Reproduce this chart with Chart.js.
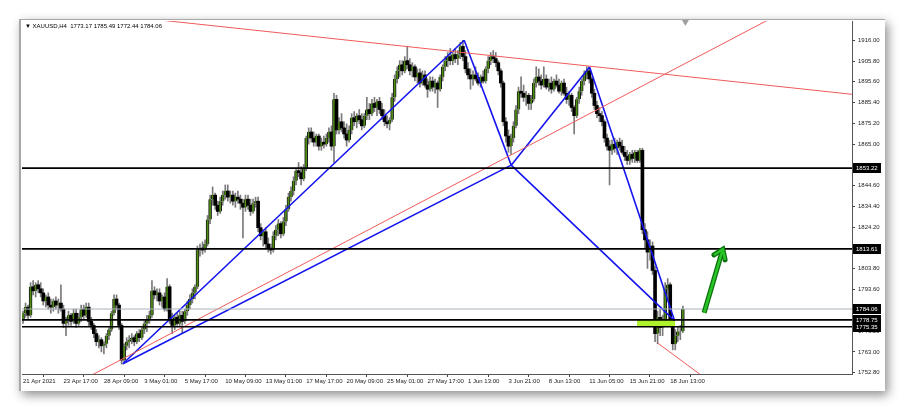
<!DOCTYPE html>
<html>
<head>
<meta charset="utf-8">
<script src="https://cdn.jsdelivr.net/npm/chart.js@4.4.0/dist/chart.umd.min.js"></script>
<style>
  html, body { margin: 0; padding: 0; background: #fff; }
  #wrap { position: relative; width: 900px; height: 409px; overflow: hidden; background: #fff; }
  #win { position: absolute; left: 19px; top: 19px; width: 864px; height: 371px; background: #fff;
         border-left: 2px solid #a8a8a8; border-top: 1px solid #a8a8a8; box-shadow: 3px 4px 10px rgba(0,0,0,0.45); }
  canvas { position: absolute; left: 0; top: 0; }
</style>
</head>
<body>
<div id="wrap"><div id="win"></div><canvas id="chart" width="900" height="409"></canvas></div>
<script>
// XAUUSD H4 candles, 21 Apr 2021 .. 18 Jun 2021
const opens = [1779,1782,1785,1781,1795,1793,1796,1794,1792,1788,1790,1786,1785,1788,1786,1787,1784,1777,1779,1781,
  1778,1782,1777,1780,1784,1781,1785,1778,1776,1772,1768,1769,1766,1767,1771,1774,1782,1789,1786,1776,
  1759,1766,1768,1769,1770,1768,1772,1770,1774,1777,1779,1781,1793,1791,1792,1788,1790,1784,1795,1779,
  1776,1780,1777,1781,1778,1783,1786,1789,1792,1795,1813,1814,1813,1816,1828,1838,1840,1835,1832,1837,
  1840,1842,1839,1840,1837,1839,1838,1836,1834,1838,1835,1832,1836,1837,1824,1820,1822,1816,1814,1813,
  1820,1823,1826,1821,1827,1833,1839,1842,1847,1852,1851,1848,1853,1868,1871,1868,1866,1869,1864,1866,
  1865,1868,1871,1864,1887,1872,1876,1873,1870,1867,1872,1878,1876,1879,1877,1874,1879,1882,1880,1885,
  1883,1886,1882,1879,1876,1875,1877,1888,1897,1901,1904,1901,1906,1904,1901,1903,1898,1900,1895,1899,
  1894,1892,1896,1893,1895,1892,1898,1903,1906,1908,1906,1909,1907,1909,1913,1908,1902,1899,1897,1899,
  1897,1895,1898,1896,1902,1906,1908,1907,1905,1901,1895,1876,1869,1864,1868,1874,1882,1891,1890,1888,
  1889,1885,1887,1895,1898,1896,1894,1897,1893,1895,1892,1896,1894,1891,1895,1890,1887,1889,1883,1879,
  1887,1891,1896,1899,1901,1897,1890,1884,1880,1879,1876,1868,1864,1862,1865,1863,1866,1864,1861,1859,
  1857,1860,1858,1861,1857,1862,1823,1818,1812,1815,1803,1772,1780,1775,1779,1794,1796,1778,1767,1771,
  1773,1773.17];
const highs = [1783,1787,1786,1797,1798,1797,1798,1797,1794,1791,1792,1789,1789,1790,1789,1796,1786,1780,1783,1782,
  1784,1784,1782,1786,1786,1787,1787,1780,1777,1774,1771,1770,1768,1772,1775,1783,1791,1791,1787,1777,
  1767,1770,1771,1772,1771,1773,1774,1775,1778,1781,1783,1798,1795,1794,1794,1791,1792,1799,1796,1782,
  1781,1782,1783,1783,1784,1788,1791,1794,1796,1815,1816,1817,1818,1830,1840,1844,1841,1837,1839,1842,
  1845,1845,1842,1842,1841,1842,1840,1838,1840,1840,1838,1838,1839,1839,1826,1823,1824,1819,1816,1822,
  1825,1828,1827,1829,1835,1841,1844,1849,1853,1856,1854,1855,1869,1873,1873,1871,1870,1870,1868,1869,
  1870,1873,1874,1890,1889,1878,1880,1876,1875,1874,1880,1881,1880,1882,1880,1880,1888,1885,1887,1888,
  1887,1888,1885,1882,1879,1878,1890,1899,1903,1906,1906,1908,1913,1907,1905,1904,1902,1902,1901,1901,
  1897,1898,1898,1897,1896,1899,1904,1908,1910,1912,1910,1912,1911,1915,1916,1911,1905,1902,1901,1903,
  1900,1899,1901,1903,1908,1910,1911,1910,1906,1902,1896,1878,1872,1870,1876,1884,1893,1898,1894,1891,
  1890,1889,1897,1903,1902,1899,1903,1899,1897,1898,1897,1899,1897,1896,1897,1893,1891,1890,1884,1888,
  1893,1897,1901,1903,1903,1898,1892,1886,1883,1881,1877,1870,1867,1867,1868,1867,1868,1867,1864,1862,
  1861,1862,1862,1862,1863,1863,1826,1822,1818,1817,1805,1783,1784,1781,1797,1799,1797,1779,1774,1775,
  1776,1785.49];
const lows = [1777,1780,1779,1780,1791,1790,1792,1790,1786,1785,1784,1782,1783,1784,1782,1783,1775,1771,1776,1776,
  1777,1775,1776,1778,1779,1780,1776,1774,1770,1766,1765,1763,1762,1765,1769,1773,1781,1784,1774,1757,
  1758,1764,1765,1767,1766,1767,1768,1769,1772,1773,1777,1780,1789,1788,1786,1785,1783,1783,1777,1772,
  1774,1776,1776,1772,1777,1781,1784,1787,1789,1794,1810,1811,1812,1815,1826,1835,1833,1830,1831,1835,
  1838,1837,1836,1835,1834,1836,1833,1819,1832,1833,1830,1831,1834,1822,1818,1815,1814,1812,1811,1812,
  1818,1820,1819,1820,1825,1832,1837,1840,1845,1849,1845,1847,1852,1865,1866,1864,1864,1862,1862,1863,
  1864,1866,1862,1856,1870,1870,1871,1868,1864,1866,1870,1874,1873,1875,1872,1873,1877,1877,1879,1881,
  1879,1880,1877,1874,1873,1872,1876,1886,1895,1898,1899,1900,1902,1899,1898,1896,1895,1893,1894,1893,
  1888,1891,1891,1890,1883,1891,1896,1901,1903,1904,1904,1905,1904,1907,1906,1900,1897,1892,1894,1896,
  1894,1893,1895,1895,1900,1904,1905,1903,1899,1893,1874,1866,1861,1860,1866,1873,1880,1888,1886,1884,
  1882,1882,1886,1893,1894,1892,1893,1892,1891,1890,1891,1893,1890,1889,1889,1885,1884,1881,1870,1878,
  1885,1889,1894,1897,1895,1888,1882,1878,1876,1874,1866,1862,1845,1860,1861,1860,1862,1860,1857,1855,
  1855,1856,1856,1856,1856,1821,1814,1804,1808,1801,1768,1767,1771,1771,1778,1789,1776,1764,1764,1768,
  1769,1772.44];
const closes = [1782,1785,1781,1795,1793,1796,1794,1792,1788,1790,1786,1785,1788,1786,1787,1784,1777,1779,1781,1778,
  1782,1777,1780,1784,1781,1785,1778,1776,1772,1768,1769,1766,1767,1771,1774,1782,1789,1786,1776,1759,
  1766,1768,1769,1770,1768,1772,1770,1774,1777,1779,1781,1793,1791,1792,1788,1790,1784,1795,1779,1776,
  1780,1777,1781,1778,1783,1786,1789,1792,1795,1813,1814,1813,1816,1828,1838,1840,1835,1832,1837,1840,
  1842,1839,1840,1837,1839,1838,1836,1834,1838,1835,1832,1836,1837,1824,1820,1822,1816,1814,1813,1820,
  1823,1826,1821,1827,1833,1839,1842,1847,1852,1851,1848,1853,1868,1871,1868,1866,1869,1864,1866,1865,
  1868,1871,1864,1887,1872,1876,1873,1870,1867,1872,1878,1876,1879,1877,1874,1879,1882,1880,1885,1883,
  1886,1882,1879,1876,1875,1877,1888,1897,1901,1904,1901,1906,1904,1901,1903,1898,1900,1895,1899,1894,
  1892,1896,1893,1895,1892,1898,1903,1906,1908,1906,1909,1907,1909,1913,1908,1902,1899,1897,1899,1897,
  1895,1898,1896,1902,1906,1908,1907,1905,1901,1895,1876,1869,1864,1868,1874,1882,1891,1890,1888,1889,
  1885,1887,1895,1898,1896,1894,1897,1893,1895,1892,1896,1894,1891,1895,1890,1887,1889,1883,1879,1887,
  1891,1896,1899,1901,1897,1890,1884,1880,1879,1876,1868,1864,1862,1865,1863,1866,1864,1861,1859,1857,
  1860,1858,1861,1857,1862,1823,1818,1812,1815,1803,1772,1780,1775,1779,1794,1796,1778,1767,1771,1773,
  1773.17,1784.06];

// time axis: a label every 16 bars
const xTickIdx = [0,16,32,48,64,80,96,112,128,144,160,176,192,208,224,240,256];
const xTickLabels = ['21 Apr 2021','23 Apr 17:00','28 Apr 09:00','3 May 01:00','5 May 17:00','10 May 09:00',
  '13 May 01:00','17 May 17:00','20 May 09:00','25 May 01:00','27 May 17:00','1 Jun 13:00','3 Jun 21:00',
  '8 Jun 13:00','11 Jun 05:00','15 Jun 21:00','18 Jun 13:00'];
const yTicks = [1752.80,1763.00,1773.20,1783.40,1793.60,1803.80,1814.00,1824.20,1834.40,1844.60,1854.80,
  1865.00,1875.20,1885.40,1895.60,1905.80,1916.00];

// horizontal levels and the bid line
const hLevels = [1853.22, 1813.61, 1778.75, 1775.35];
const bidLevel = 1784.06;
const markLevels = [1853.22, 1813.61, 1784.06, 1778.75, 1775.35];

// harmonic pattern points [bar, price]
const patX = [39.5, 1757.2], patA = [174.5, 1916.0], patB = [193.1, 1854.7],
      patC = [224.1, 1902.9], patD = [257.7, 1778.4];
// red trend lines [[bar, price], [bar, price]]
const redTop = [[50, 1926.5], [330, 1889.2]];
const redRise = [[25, 1750.2], [330, 1949.0]];
const redLow = [[251.1, 1767.3], [275, 1745.4]];
// green zone and arrow
const zoneBars = [242.9, 257.9];
const arrowLine = [[269.4, 1782.2], [276.8, 1813.4]];
const arrowHead = [[273.3, 1810.6], [276.8, 1813.4], [277.7, 1808.2]];
const shiftMark = [262, 1925];

const FONT = '"Liberation Sans", Arial, sans-serif';
const pts = arr => arr.map(p => ({ x: p[0], y: p[1] }));
const seg = (p, q, color, w) => ({ type: 'line', data: pts([p, q]), borderColor: color, borderWidth: w,
  pointRadius: 0, fill: false, tension: 0, order: 1 });
const isBull = i => closes[i] >= opens[i];

const datasets = [
  { type: 'bar', data: highs.map((h, i) => ({ x: i, y: [lows[i], h] })), backgroundColor: '#7a7a7a',
    barThickness: 1, grouped: false, order: 20 },
  // bodies: green with dark edges for up bars, solid black for down bars
  { type: 'bar', data: opens.map((o, i) => ({ x: i, y: [o, closes[i] === o ? o + 0.3 : closes[i]] })),
    backgroundColor: opens.map((o, i) => isBull(i) ? '#4e8f12' : '#000000'),
    borderColor: '#1a1a1a', borderWidth: opens.map((o, i) => isBull(i) ? { left: 1, right: 1, top: 0, bottom: 0 } : 0),
    borderSkipped: false,
    barThickness: 3, grouped: false, order: 19 },
  // green zone between the two lower levels
  { type: 'line', data: pts([[zoneBars[0], hLevels[2]], [zoneBars[1], hLevels[2]]]), borderWidth: 0,
    pointRadius: 0, fill: '+1', backgroundColor: '#adf22a', order: 5 },
  { type: 'line', data: pts([[zoneBars[0], hLevels[3]], [zoneBars[1], hLevels[3]]]), borderWidth: 0,
    pointRadius: 0, fill: false, order: 5 },
  seg([-1, bidLevel], [330, bidLevel], '#a9b3bc', 1),
  ...hLevels.map(v => seg([-1, v], [330, v], '#000000', 1.6)),
  seg(redTop[0], redTop[1], '#f05a5a', 1),
  seg(redRise[0], redRise[1], '#f05a5a', 1),
  seg(redLow[0], redLow[1], '#f05a5a', 1),
  seg(patX, patA, '#1414f0', 1.6),
  seg(patA, patB, '#1414f0', 1.6),
  seg(patX, patB, '#1414f0', 1.6),
  seg(patB, patC, '#1414f0', 1.6),
  seg(patC, patD, '#1414f0', 1.6),
  seg(patB, patD, '#1414f0', 1.6),
  { type: 'line', data: pts(arrowLine), borderColor: '#0b6e0b', borderWidth: 5, pointRadius: 0, order: 0 },
  { type: 'line', data: pts(arrowHead), borderColor: '#0b6e0b', borderWidth: 5, pointRadius: 0, order: 0,
    borderCapStyle: 'round', borderJoinStyle: 'miter' },
  { type: 'line', data: pts(arrowLine), borderColor: '#27c327', borderWidth: 2.6, pointRadius: 0, order: -1 },
  { type: 'line', data: pts(arrowHead), borderColor: '#27c327', borderWidth: 2.6, pointRadius: 0, order: -1 },
  { type: 'line', data: pts([shiftMark]), showLine: false, pointStyle: 'triangle', rotation: 180, pointRadius: 4,
    pointBackgroundColor: '#a0a0a0', pointBorderWidth: 0, clip: false, order: 0 }
];

const overlay = {
  id: 'overlay',
  afterDraw(chart) {
    const ctx = chart.ctx, y = chart.scales.y, area = chart.chartArea;
    ctx.save();
    ctx.font = '6px ' + FONT;
    ctx.textBaseline = 'middle';
    markLevels.forEach(v => {
      const py = Math.round(y.getPixelForValue(v));
      ctx.fillStyle = '#000';
      ctx.fillRect(area.right + 1, py - 5, 28, 10);
      ctx.fillStyle = '#fff';
      ctx.fillText(v.toFixed(2), area.right + 4, py + 0.5);
    });
    // symbol line in the top-left corner
    const last = closes.length - 1;
    ctx.fillStyle = '#000';
    ctx.fillText('\u25BC XAUUSD,H4  ' + [opens[last], highs[last], lows[last], closes[last]].map(v => v.toFixed(2)).join(' '),
      area.left + 3, area.top + 5);
    ctx.restore();
  }
};

new Chart(document.getElementById('chart'), {
  type: 'bar',
  data: { datasets },
  options: {
    responsive: false,
    animation: false,
    devicePixelRatio: 1,
    layout: { padding: { left: 22, top: 21, right: 18, bottom: 23 } },
    plugins: { legend: { display: false }, tooltip: { enabled: false } },
    scales: {
      x: {
        type: 'linear', position: 'bottom', min: -0.4, max: 327.9, offset: false,
        afterBuildTicks: s => { s.ticks = xTickIdx.map(v => ({ value: v })); },
        afterFit: s => { s.height = 12; },
        ticks: {
          callback: v => xTickLabels[xTickIdx.indexOf(v)] || '',
          align: 'start', maxRotation: 0, autoSkip: false, padding: 1,
          color: '#222', font: { family: FONT, size: 6 }
        },
        grid: { drawOnChartArea: false, drawTicks: true, tickLength: 3, color: '#444' },
        border: { color: '#555', width: 1 }
      },
      y: {
        type: 'linear', position: 'right', min: 1752.16, max: 1925.47,
        afterBuildTicks: s => { s.ticks = yTicks.map(v => ({ value: v })); },
        afterFit: s => { s.width = 30; },
        ticks: {
          callback: v => v.toFixed(2), crossAlign: 'near', padding: 3,
          color: '#222', font: { family: FONT, size: 6 }
        },
        grid: { drawOnChartArea: false, drawTicks: true, tickLength: 3, color: '#444' },
        border: { color: '#555', width: 1 }
      }
    }
  },
  plugins: [overlay]
});
</script>
</body>
</html>
